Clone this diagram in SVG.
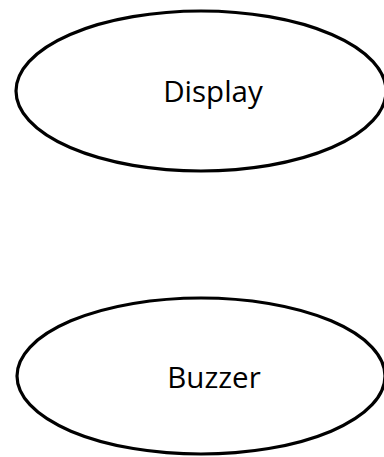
<svg xmlns="http://www.w3.org/2000/svg" width="384" height="457" viewBox="0 0 384 457">
<style>
.node ellipse{fill:#fff;stroke:#000;stroke-width:3.2}
.node text{font-family:"Open Sans","Noto Sans",sans-serif;font-size:29.5px;fill:#000;text-anchor:middle}
</style>
<rect width="384" height="457" fill="#fff"/>
<g id="connectors"></g>
<g id="display" class="node">
<ellipse cx="201" cy="91" rx="185" ry="80"/>
<text x="213" y="102">Display</text>
</g>
<g id="buzzer" class="node">
<ellipse cx="201" cy="376" rx="184" ry="78"/>
<text x="214" y="388">Buzzer</text>
</g>
</svg>
